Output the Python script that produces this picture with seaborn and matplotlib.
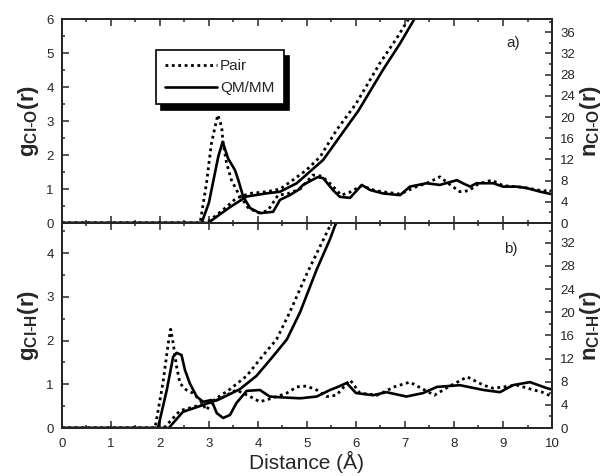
import matplotlib
matplotlib.use("Agg")
import matplotlib.pyplot as plt
import seaborn as sns
from matplotlib.ticker import MultipleLocator

# ---- panel a) Cl-O: g(r) ----
x_go_pair = [0, 2.82, 2.95, 3.05, 3.18, 3.26, 3.29, 3.36, 3.46, 3.6, 3.8, 4.0, 4.2, 4.41, 4.6,
             4.86, 5.12, 5.3, 5.5, 5.7, 5.88, 6.12, 6.4, 6.9, 7.2, 7.5, 7.71, 7.9, 8.12, 8.3,
             8.5, 8.77, 9.0, 9.4, 9.8, 10]
g_go_pair = [0, 0, 1.17, 2.34, 3.18, 2.83, 2.34, 1.76, 1.26, 0.87, 0.45, 0.3, 0.36, 0.82, 0.86,
             1.0, 1.41, 1.38, 1.12, 0.82, 0.91, 1.1, 0.95, 0.85, 1.05, 1.2, 1.36, 1.15, 0.92, 0.95,
             1.15, 1.26, 1.1, 1.05, 0.95, 0.95]
x_go_qm = [0, 2.85, 3.0, 3.08, 3.19, 3.28, 3.39, 3.53, 3.6, 3.7, 3.84, 4.04, 4.31, 4.45, 4.65,
           4.82, 4.92, 5.1, 5.22, 5.33, 5.53, 5.67, 5.88, 6.12, 6.29, 6.55, 6.9, 7.1, 7.44, 7.71,
           8.06, 8.18, 8.33, 8.46, 8.8, 9.0, 9.28, 9.48, 9.76, 9.99]
g_go_qm = [0, 0, 0.6, 1.17, 1.95, 2.39, 1.9, 1.56, 1.26, 0.77, 0.44, 0.29, 0.33, 0.68, 0.82,
           0.97, 1.12, 1.26, 1.35, 1.32, 0.97, 0.77, 0.74, 1.12, 0.97, 0.87, 0.82, 1.07, 1.17, 1.12,
           1.26, 1.17, 1.07, 1.17, 1.17, 1.07, 1.07, 1.03, 0.92, 0.85]

# ---- panel a) Cl-O: n(r) ----
x_no_pair = [0, 2.95, 3.29, 3.56, 3.84, 4.18, 4.45, 4.71, 4.99, 5.27, 5.6, 6.0, 6.49, 6.84, 7.06, 7.3]
n_no_pair = [0, 0, 2.5, 4.7, 5.6, 5.9, 6.4, 8.1, 10, 12.5, 17.5, 22.5, 30.2, 35, 38.3, 42]
x_no_qm = [0, 2.98, 3.43, 3.77, 4.18, 4.45, 4.79, 5.06, 5.33, 5.67, 6.05, 6.55, 6.9, 7.16, 7.4]
n_no_qm = [0, 0, 3, 5, 5.6, 5.9, 7.5, 9.7, 11.9, 16.3, 21.2, 28.9, 33.9, 38, 42]

# ---- panel b) Cl-H: g(r) ----
x_gh_pair = [0, 1.9, 2.06, 2.17, 2.22, 2.27, 2.34, 2.41, 2.54, 2.67, 2.82, 2.95, 3.05, 3.29,
             3.56, 3.84, 4.04, 4.31, 4.59, 4.79, 4.99, 5.2, 5.4, 5.6, 5.88, 6.08, 6.43, 6.8,
             7.1, 7.35, 7.6, 7.9, 8.27, 8.6, 8.8, 9.28, 9.6, 9.8, 10]
g_gh_pair = [0, 0, 1.02, 1.94, 2.26, 1.94, 1.4, 1.02, 0.87, 0.8, 0.64, 0.41, 0.57, 0.71,
             0.87, 0.72, 0.6, 0.69, 0.8, 0.94, 0.96, 0.87, 0.72, 0.75, 1.1, 0.8, 0.75, 0.95,
             1.05, 0.9, 0.75, 0.95, 1.17, 0.98, 0.91, 0.98, 0.88, 0.82, 0.72]
x_gh_qm = [0, 1.96, 2.14, 2.27, 2.34, 2.44, 2.51, 2.61, 2.75, 2.88, 3.05, 3.16, 3.29, 3.43,
           3.56, 3.77, 4.04, 4.24, 4.51, 4.86, 5.2, 5.47, 5.63, 5.81, 6.0, 6.35, 6.62, 7.03,
           7.37, 7.65, 8.12, 8.6, 8.94, 9.2, 9.55, 9.9, 10]
g_gh_qm = [0, 0, 0.87, 1.63, 1.72, 1.67, 1.33, 1.02, 0.72, 0.6, 0.64, 0.34, 0.23, 0.3,
           0.57, 0.85, 0.87, 0.72, 0.7, 0.68, 0.72, 0.87, 0.94, 1.03, 0.8, 0.75, 0.82, 0.72,
           0.8, 0.94, 0.98, 0.87, 0.82, 0.98, 1.05, 0.91, 0.88]

# ---- panel b) Cl-H: n(r) ----
x_nh_pair = [0, 2.08, 2.41, 2.75, 3.08, 3.43, 3.77, 4.1, 4.38, 4.65, 4.99, 5.27, 5.47, 5.65]
n_nh_pair = [0, 0, 3, 3.8, 4.7, 6.7, 9, 12.5, 15.3, 20, 26.5, 31.4, 34.9, 38]
x_nh_qm = [0, 2.18, 2.47, 2.82, 3.22, 3.63, 3.97, 4.31, 4.59, 4.86, 5.2, 5.47, 5.57, 5.75]
n_nh_qm = [0, 0, 2.8, 3.8, 5, 6.7, 9, 12.4, 15.3, 20, 27.4, 32.6, 34.9, 38]

sns.set_theme(style="ticks")
plt.rcParams['font.family'] = ['Liberation Sans Narrow', 'Liberation Sans', 'DejaVu Sans']
plt.rcParams['xtick.direction'] = 'in'
plt.rcParams['ytick.direction'] = 'in'
plt.rcParams['axes.linewidth'] = 1.4
plt.rcParams['mathtext.default'] = 'regular'

fig = plt.figure(figsize=(6.13, 4.76), dpi=100)
ax1 = fig.add_axes([0.101, 0.5315, 0.7995, 0.4285])
ax2 = fig.add_axes([0.101, 0.1008, 0.7995, 0.4307])
ax1b = ax1.twinx()
ax2b = ax2.twinx()

dot = dict(color='black', linestyle=(0, (1, 1.3)), linewidth=2.0)
sol = dict(color='black', linestyle='-', linewidth=1.9)

sns.lineplot(x=x_go_pair, y=g_go_pair, ax=ax1, label='Pair', **dot)
sns.lineplot(x=x_go_qm, y=g_go_qm, ax=ax1, label='QM/MM', **sol)
sns.lineplot(x=x_no_pair, y=n_no_pair, ax=ax1b, **dot)
sns.lineplot(x=x_no_qm, y=n_no_qm, ax=ax1b, **sol)

sns.lineplot(x=x_gh_pair, y=g_gh_pair, ax=ax2, **dot)
sns.lineplot(x=x_gh_qm, y=g_gh_qm, ax=ax2, **sol)
sns.lineplot(x=x_nh_pair, y=n_nh_pair, ax=ax2b, **dot)
sns.lineplot(x=x_nh_qm, y=n_nh_qm, ax=ax2b, **sol)

ax1.set_ylim(0, 6)
ax1b.set_ylim(0, 38.5)
ax2.set_ylim(0, 4.69)
ax2b.set_ylim(0, 35.4)

for ax in (ax1, ax2):
    ax.set_xlim(0, 10)
    ax.xaxis.set_major_locator(MultipleLocator(1))
    ax.xaxis.set_minor_locator(MultipleLocator(0.5))
    ax.yaxis.set_major_locator(MultipleLocator(1))
    ax.yaxis.set_minor_locator(MultipleLocator(0.5))
    ax.tick_params(which='both', top=True, labelsize=9.5, width=1.1)
    ax.tick_params(axis='x', pad=7)
    ax.tick_params(axis='y', pad=6)
    ax.tick_params(which='major', length=5)
    ax.tick_params(which='minor', length=2.5)
for ax in (ax1b, ax2b):
    ax.yaxis.set_major_locator(MultipleLocator(4))
    ax.yaxis.set_minor_locator(MultipleLocator(2))
    ax.tick_params(which='both', labelsize=9.5, width=1.1, pad=6)
    ax.tick_params(which='major', length=5)
    ax.tick_params(which='minor', length=2.5)

ax1.tick_params(axis='x', labelbottom=False)

ax1.set_xlabel('')
ax2.set_xlabel('Distance (Å)', fontsize=15, labelpad=1)
ax1.set_ylabel(r'g$_{Cl\text{-}O}$(r)', fontsize=16, fontweight='bold', labelpad=4)
ax2.set_ylabel(r'g$_{Cl\text{-}H}$(r)', fontsize=16, fontweight='bold', labelpad=4)
ax1b.set_ylabel(r'n$_{Cl\text{-}O}$(r)', fontsize=16, fontweight='bold', labelpad=2)
ax2b.set_ylabel(r'n$_{Cl\text{-}H}$(r)', fontsize=16, fontweight='bold', labelpad=2)

ax1.text(9.2, 5.3, 'a)', fontsize=11, ha='center', va='center')
ax2.text(9.15, 4.1, 'b)', fontsize=11, ha='center', va='center')

handles, labels = ax1.get_legend_handles_labels()
ax1.get_legend().remove()
leg = ax1b.legend(handles, labels, loc='upper left', bbox_to_anchor=(0.176, 0.885),
                  fontsize=11, frameon=True, fancybox=False, handlelength=3.4,
                  borderpad=0.6, labelspacing=0.5, handletextpad=0.2,
                  shadow={'ox': 4, 'oy': -4, 'color': 'black', 'alpha': 1})
leg.get_frame().set_edgecolor('black')
leg.get_frame().set_linewidth(1.2)
leg.get_frame().set_alpha(1)

fig.savefig('out.png', dpi=100)
